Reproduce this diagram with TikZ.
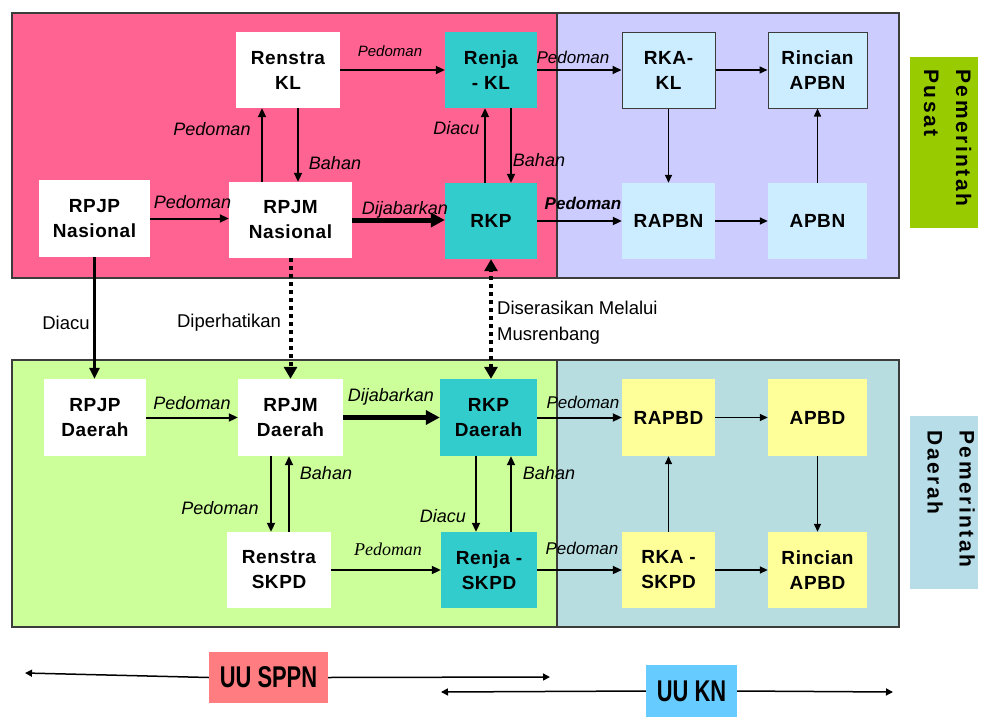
\documentclass[tikz,border=0pt]{standalone}
\usepackage{fontspec}
\setmainfont{Liberation Sans}
\newfontfamily\boxfont[LetterSpace=3]{Liberation Sans}
\newfontfamily\sidefont[LetterSpace=12]{Liberation Sans}
\newfontfamily\serifit{Liberation Serif}
\usetikzlibrary{arrows.meta,calc}
\definecolor{pinkbg}{RGB}{255,99,146}
\definecolor{purplebg}{RGB}{204,204,255}
\definecolor{greenbg}{RGB}{204,255,153}
\definecolor{greybg}{RGB}{183,221,224}
\definecolor{tealbox}{RGB}{51,204,204}
\definecolor{lbluebox}{RGB}{204,236,255}
\definecolor{yellowbox}{RGB}{255,255,153}
\definecolor{pusatbox}{RGB}{153,204,0}
\definecolor{daerahbox}{RGB}{183,221,232}
\definecolor{sppnbox}{RGB}{255,124,128}
\definecolor{knbox}{RGB}{102,204,255}
\definecolor{regline}{RGB}{60,60,60}
\tikzset{
  wh/.style 2 args={minimum width=#1pt, minimum height=#2pt},
  box/.style={rectangle, inner sep=0pt, align=center, text=black,
    font=\boxfont\bfseries\fontsize{19}{25}\selectfont},
  whitebox/.style={box, fill=white},
  tealnode/.style={box, fill=tealbox},
  bluenode/.style={box, fill=lbluebox},
  bluenodeb/.style={box, fill=lbluebox, draw=regline, line width=1pt},
  yellownode/.style={box, fill=yellowbox},
  region/.style={draw=regline, line width=1.5pt},
  lbl/.style={inner sep=0pt, font=\itshape\fontsize{18}{20}\selectfont},
  plbl/.style={inner sep=0pt, font=\fontsize{18.5}{26}\selectfont},
  arr/.style={line width=2pt, -{Triangle[length=9pt,width=8pt]}},
  thinarr/.style={line width=1.5pt, -{Triangle[length=8pt,width=7pt]}},
  midarr/.style={line width=2.8pt, -{Triangle[length=11pt,width=10pt]}},
  thickarr/.style={line width=5pt, -{Triangle[length=14pt,width=14pt]}},
  dotarr/.style={line width=4pt, dash pattern=on 4pt off 4pt, -{Triangle[length=12pt,width=13pt]}},
  dotarrb/.style={line width=4pt, dash pattern=on 4pt off 4pt, {Triangle[length=12pt,width=13pt]}-{Triangle[length=12pt,width=13pt]}},
  uuarr/.style={line width=1.5pt, -{Triangle[length=7pt,width=7pt]}},
  uubox/.style={rectangle, inner sep=0pt, font=\bfseries\fontsize{30}{30}\selectfont},
  sidelbl/.style={inner sep=0pt, rotate=-90, align=left, font=\sidefont\bfseries\fontsize{21}{32}\selectfont}
}
\begin{document}
\begin{tikzpicture}[x=1pt,y=-1pt]
\useasboundingbox (0,0) rectangle (983,720);
\fill[white] (0,0) rectangle (983,720);
% regions
\path[region, fill=pinkbg] (12,13) rectangle (557,278);
\path[region, fill=purplebg] (557,13) rectangle (899,278);
\path[region, fill=greenbg] (12,360) rectangle (557,627);
\path[region, fill=greybg] (557,360) rectangle (899,627);
% side labels
\fill[pusatbox] (910,57) rectangle (978,228);
\node[sidelbl] (pusatlbl) at (947.5,138) {Pemerintah\\Pusat};
\fill[daerahbox] (910,416) rectangle (978,589);
\node[sidelbl] (daerahlbl) at (951,499) {Pemerintah\\Daerah};
% top nodes
\node[whitebox, wh={104}{76}] (renstraKL) at (288,70) {Renstra\\KL};
\node[tealnode, wh={92}{76}] (renjaKL) at (491,70) {Renja\\- KL};
\node[whitebox, wh={111}{77}] (rpjpN) at (94.5,218.5) {RPJP\\Nasional};
\node[whitebox, wh={123}{76}] (rpjmN) at (290.5,220) {RPJM\\Nasional};
\node[tealnode, wh={92}{76}] (rkp) at (491,221) {RKP};
\node[bluenodeb, wh={93}{76}] (rkaKL) at (668.5,70) {RKA-\\KL};
\node[bluenodeb, wh={99}{76}] (rincianAPBN) at (817.5,70) {Rincian\\APBN};
\node[bluenode, wh={93}{76}] (rapbn) at (668.5,221) {RAPBN};
\node[bluenode, wh={99}{76}] (apbn) at (817.5,221) {APBN};
% bottom nodes
\node[whitebox, wh={102}{77}] (rpjpD) at (95,417.5) {RPJP\\Daerah};
\node[whitebox, wh={105}{77}] (rpjmD) at (290.5,417.5) {RPJM\\Daerah};
\node[tealnode, wh={97}{77}] (rkpD) at (488.5,417.5) {RKP\\Daerah};
\node[whitebox, wh={104}{76}] (renstraSKPD) at (279,570) {Renstra\\SKPD};
\node[tealnode, wh={96}{76}] (renjaSKPD) at (489,570) {Renja -\\SKPD};
\node[yellownode, wh={93}{77}] (rapbd) at (668.5,417.5) {RAPBD};
\node[yellownode, wh={99}{77}] (apbd) at (817.5,417.5) {APBD};
\node[yellownode, wh={93}{76}] (rkaSKPD) at (668.5,570) {RKA -\\SKPD};
\node[yellownode, wh={99}{76}] (rincianAPBD) at (817.5,570) {Rincian\\APBD};
% top connectors
\draw[arr] (renstraKL) -- (renjaKL);
\draw[arr] ([xshift=-28.5pt]rpjmN.north) -- ([xshift=-28.5pt]rpjmN.north |- renstraKL.south);
\draw[arr] ([xshift=10pt]renstraKL.south) -- ([xshift=10pt]renstraKL.south |- rpjmN.north);
\draw[arr] (rpjpN.east) -- (rpjpN.east -| rpjmN.west);
\draw[thickarr] (rpjmN.east) -- (rpjmN.east -| rkp.west);
\draw[arr] ([xshift=-6pt]rkp.north) -- ([xshift=-6pt]rkp.north |- renjaKL.south);
\draw[arr] ([xshift=20pt]renjaKL.south) -- ([xshift=20pt]renjaKL.south |- rkp.north);
\draw[arr] (renjaKL) -- (rkaKL);
\draw[thinarr] (rkaKL) -- (rincianAPBN);
\draw[thinarr] (rkaKL) -- (rapbn);
\draw[arr] (rkp) -- (rapbn);
\draw[thinarr] (rapbn) -- (apbn);
\draw[thinarr] (apbn) -- (rincianAPBN);
% middle connectors
\draw[midarr] (rpjpN.south) -- (rpjpN.south |- rpjpD.north);
\draw[dotarr] (rpjmN.south) -- (rpjmN.south |- rpjmD.north);
\draw[dotarrb] (rkpD.north -| rkp.south) -- (rkp.south);
% bottom connectors
\draw[arr] (rpjpD) -- (rpjmD);
\draw[thickarr] (rpjmD) -- (rkpD);
\draw[arr] ([xshift=-19.5pt]rpjmD.south) -- ([xshift=-19.5pt]rpjmD.south |- renstraSKPD.north);
\draw[arr] ([xshift=10pt]renstraSKPD.north) -- ([xshift=10pt]renstraSKPD.north |- rpjmD.south);
\draw[arr] ([xshift=-12.5pt]rkpD.south) -- ([xshift=-12.5pt]rkpD.south |- renjaSKPD.north);
\draw[arr] ([xshift=22pt]renjaSKPD.north) -- ([xshift=22pt]renjaSKPD.north |- rkpD.south);
\draw[arr] (renstraSKPD) -- (renjaSKPD);
\draw[arr] (rkpD) -- (rapbd);
\draw[arr] (renjaSKPD) -- (rkaSKPD);
\draw[thinarr] (rapbd) -- (apbd);
\draw[thinarr] (apbd) -- (rincianAPBD);
\draw[thinarr] (rkaSKPD) -- (rapbd);
\draw[thinarr] (rkaSKPD) -- (rincianAPBD);
% top labels
\node[lbl, font=\itshape\fontsize{15}{17}\selectfont] (l1) at (390,51) {Pedoman};
\node[lbl] (l2) at (212,129) {Pedoman};
\node[lbl] (l3) at (335,163) {Bahan};
\node[lbl] (l4) at (192.5,202) {Pedoman};
\node[lbl] (l5) at (405,210) {Dijabarkan};
\node[lbl] (l6) at (456.5,128) {Diacu};
\node[lbl] (l7) at (539,160) {Bahan};
\node[lbl, font=\itshape\fontsize{17}{20}\selectfont] (l8) at (573,57) {Pedoman};
\node[lbl, font=\bfseries\itshape\fontsize{17}{20}\selectfont] (l9) at (583,203) {Pedoman};
% middle labels
\node[plbl] (l10) at (66,323) {Diacu};
\node[plbl] (l11) at (229,323) {Diperhatikan};
\node[plbl, anchor=north west, align=left] (l12) at (497,301) {Diserasikan Melalui\\Musrenbang};
% bottom labels
\node[lbl] (l13) at (192,403) {Pedoman};
\node[lbl] (l14) at (391,397) {Dijabarkan};
\node[lbl] (l15) at (326,473) {Bahan};
\node[lbl] (l16) at (220,508) {Pedoman};
\node[lbl] (l17) at (443,516) {Diacu};
\node[lbl] (l18) at (549,473) {Bahan};
\node[lbl, font=\serifit\itshape\fontsize{18}{20}\selectfont] (l19) at (388,549) {Pedoman};
\node[lbl, font=\itshape\fontsize{17}{20}\selectfont] (l20) at (583,402) {Pedoman};
\node[lbl, font=\itshape\fontsize{17}{20}\selectfont] (l21) at (582,548) {Pedoman};
% bottom UU arrows
\coordinate (sppnL) at (25,673);
\coordinate (sppnR) at (550,677);
\node[uubox, fill=sppnbox, wh={119}{51}] (sppn) at (268.5,677.5) {\scalebox{0.73}[1]{UU SPPN}};
\draw[uuarr] (sppn.west) -- (sppnL);
\draw[uuarr] (sppn.east) -- (sppnR);
\coordinate (knL) at (441,692);
\coordinate (knR) at (893,692);
\node[uubox, fill=knbox, wh={91}{52}] (kn) at (691.5,691) {\scalebox{0.73}[1]{UU KN}};
\draw[uuarr] (kn.west) -- (knL);
\draw[uuarr] (kn.east) -- (knR);
\end{tikzpicture}
\end{document}
